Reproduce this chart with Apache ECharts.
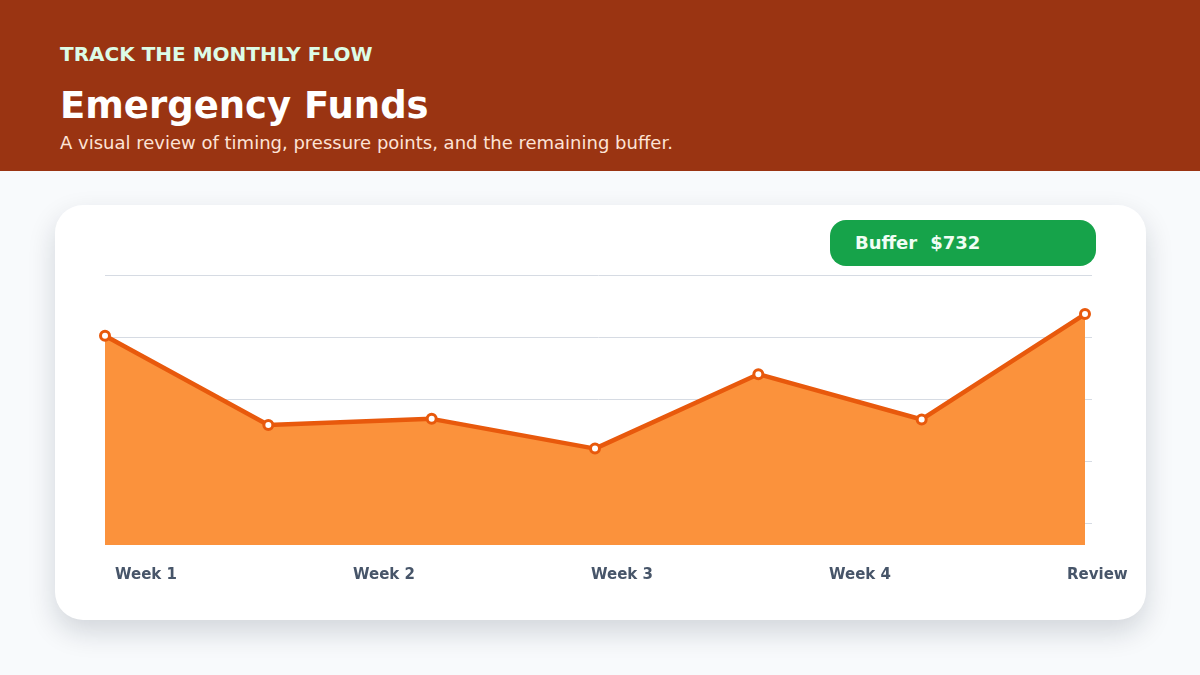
<!DOCTYPE html>
<html>
<head>
<meta charset="utf-8">
<title>Emergency Funds</title>
<script src="https://cdn.jsdelivr.net/npm/echarts@6/dist/echarts.min.js"></script>
<style>
  html, body { margin: 0; padding: 0; }
  body {
    width: 1200px; height: 675px; position: relative; overflow: hidden;
    background: #f8fafc; font-family: "DejaVu Sans", sans-serif;
  }
  .header { position: absolute; left: 0; top: 0; width: 1200px; height: 171px; background: #9a3412; }
  .kicker { position: absolute; left: 60px; top: 44px; font-size: 20px; line-height: 20px; font-weight: bold; color: #dcfce7; }
  .title { position: absolute; left: 60px; top: 87px; font-size: 37px; line-height: 37px; font-weight: bold; color: #ffffff; }
  .sub { position: absolute; left: 60px; top: 134px; font-size: 18px; line-height: 18px; color: #fde3d6; }
  .card {
    position: absolute; left: 55px; top: 205px; width: 1091px; height: 415px;
    background: #ffffff; border-radius: 28px;
    box-shadow: 0 12px 28px rgba(15, 23, 42, 0.16);
  }
  .pill {
    position: absolute; left: 830px; top: 220px; width: 266px; height: 46px;
    background: #16a34a; border-radius: 16px; color: #f0fdf4;
    font-size: 18px; font-weight: bold; line-height: 46px; box-sizing: border-box; padding-left: 25px;
  }
  .pill span + span { margin-left: 13px; }
  #main { position: absolute; left: 0; top: 0; width: 1200px; height: 675px; }
</style>
</head>
<body>
<div class="header">
  <div class="kicker">TRACK THE MONTHLY FLOW</div>
  <div class="title">Emergency Funds</div>
  <div class="sub">A visual review of timing, pressure points, and the remaining buffer.</div>
</div>
<div class="card"></div>
<div class="pill"><span>Buffer</span><span>$732</span></div>
<div id="main"></div>
<script>
  // balance at each checkpoint through the month
  var checkpoints = ["1", "2", "3", "4", "5", "6", "7"];
  var balance = [902, 758, 768, 720, 840, 767, 937];
  var weekLabels = ["Week 1", "Week 2", "Week 3", "Week 4", "Review"];
  var gridTicks = [600, 1000, 100]; // min, max, step of the guide lines

  var myChart = echarts.init(document.getElementById("main"), null, { renderer: "canvas" });
  var step = gridTicks[2];
  var dataMin = gridTicks[0] - (22 / 62) * step;

  myChart.setOption({
    animation: false,
    grid: [
      { left: 105, right: 108, top: 275, bottom: 152 },
      { left: 105, right: 115, top: 275, bottom: 130 },
      { left: 115, right: 133, top: 275, bottom: 130 }
    ],
    xAxis: [
      { gridIndex: 0, type: "category", data: checkpoints, show: false },
      { gridIndex: 1, type: "category", data: checkpoints, boundaryGap: false, show: false },
      {
        gridIndex: 2,
        type: "category",
        data: weekLabels,
        boundaryGap: false,
        axisLine: { show: false },
        axisTick: { show: false },
        axisLabel: {
          align: "left",
          margin: 23,
          color: "#475569",
          fontSize: 15,
          fontWeight: "bold",
          fontFamily: "DejaVu Sans"
        }
      }
    ],
    yAxis: [
      {
        gridIndex: 0,
        type: "value",
        min: gridTicks[0],
        max: gridTicks[1],
        interval: step,
        axisLine: { show: false },
        axisTick: { show: false },
        axisLabel: { show: false },
        splitLine: { lineStyle: { color: "#d6dbe3", width: 1 } }
      },
      { gridIndex: 1, type: "value", min: dataMin, max: gridTicks[1], show: false, splitLine: { show: false } },
      { gridIndex: 2, type: "value", show: false, splitLine: { show: false } }
    ],
    series: [
      {
        name: "Balance",
        type: "line",
        xAxisIndex: 1,
        yAxisIndex: 1,
        data: balance,
        symbol: "circle",
        symbolSize: 9,
        lineStyle: { color: "#e8590c", width: 4.5 },
        itemStyle: { color: "#ffffff", borderColor: "#e8590c", borderWidth: 3 },
        areaStyle: { color: "#fb923c", opacity: 1 }
      }
    ]
  });
</script>
</body>
</html>
